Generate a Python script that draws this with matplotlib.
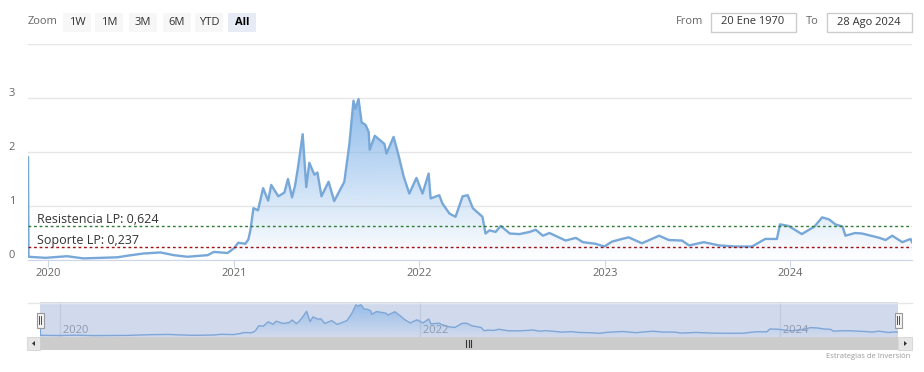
import matplotlib
matplotlib.use("Agg")
import matplotlib.pyplot as plt
import matplotlib.dates as mdates
from matplotlib.patches import Rectangle, Polygon
from matplotlib.transforms import offset_copy
import numpy as np
import pandas as pd

# values
dates = [
    "2019-11-22", "2019-11-23", "2019-12-26", "2020-02-07", "2020-03-10", "2020-04-13",
    "2020-05-16", "2020-06-05", "2020-07-06", "2020-08-09", "2020-09-04", "2020-10-01",
    "2020-11-10", "2020-11-22", "2020-12-19", "2021-01-01", "2021-01-09", "2021-01-23",
    "2021-01-29", "2021-02-02", "2021-02-08", "2021-02-17", "2021-02-27", "2021-03-09",
    "2021-03-15", "2021-03-29", "2021-04-10", "2021-04-17", "2021-04-25", "2021-05-01",
    "2021-05-07", "2021-05-16", "2021-05-23", "2021-05-29", "2021-06-08", "2021-06-14",
    "2021-06-22", "2021-07-06", "2021-07-17", "2021-08-06", "2021-08-16", "2021-08-24",
    "2021-08-28", "2021-09-03", "2021-09-09", "2021-09-17", "2021-09-23", "2021-09-25",
    "2021-10-05", "2021-10-24", "2021-10-28", "2021-11-11", "2021-11-21", "2021-12-01",
    "2021-12-12", "2021-12-26", "2022-01-07", "2022-01-19", "2022-01-23", "2022-02-09",
    "2022-02-15", "2022-03-01", "2022-03-13", "2022-03-27", "2022-04-06", "2022-04-16",
    "2022-05-05", "2022-05-11", "2022-05-19", "2022-05-31", "2022-06-10", "2022-06-28",
    "2022-07-17", "2022-08-06", "2022-08-18", "2022-09-01", "2022-09-14", "2022-10-16",
    "2022-11-05", "2022-11-19", "2022-12-14", "2022-12-31", "2023-01-15", "2023-02-04",
    "2023-02-17", "2023-03-15", "2023-04-18", "2023-05-07", "2023-06-02", "2023-06-16",
    "2023-07-15", "2023-08-14", "2023-09-15", "2023-10-18", "2023-11-13", "2023-12-06",
    "2023-12-12", "2023-12-29", "2024-01-24", "2024-02-18", "2024-03-04", "2024-03-18",
    "2024-03-30", "2024-04-13", "2024-04-19", "2024-05-08", "2024-05-22", "2024-06-25",
    "2024-07-07", "2024-07-20", "2024-08-09", "2024-08-25", "2024-08-28",
]
prices = [
    1.90, 0.06, 0.04, 0.07, 0.03, 0.04,
    0.05, 0.08, 0.12, 0.14, 0.09, 0.06,
    0.09, 0.15, 0.13, 0.22, 0.32, 0.30,
    0.38, 0.55, 0.96, 0.92, 1.33, 1.10,
    1.39, 1.18, 1.25, 1.50, 1.16, 1.38,
    1.73, 2.33, 1.35, 1.80, 1.58, 1.62,
    1.18, 1.45, 1.09, 1.45, 2.15, 2.95,
    2.80, 2.98, 2.55, 2.50, 2.37, 2.04,
    2.30, 2.15, 1.97, 2.28, 1.93, 1.54,
    1.23, 1.52, 1.23, 1.60, 1.14, 1.20,
    1.05, 0.86, 0.80, 1.18, 1.20, 0.96,
    0.80, 0.49, 0.55, 0.52, 0.63, 0.49,
    0.48, 0.52, 0.56, 0.45, 0.50, 0.36,
    0.41, 0.33, 0.30, 0.25, 0.34, 0.39,
    0.42, 0.31, 0.45, 0.37, 0.36, 0.27,
    0.33, 0.27, 0.25, 0.25, 0.39, 0.39,
    0.66, 0.63, 0.48, 0.62, 0.79, 0.75,
    0.66, 0.62, 0.45, 0.50, 0.49, 0.41,
    0.37, 0.45, 0.33, 0.39, 0.33,
]
resistance = 0.624
support = 0.237
res_label = "Resistencia LP: 0,624"
sup_label = "Soporte LP: 0,237"
y_ticks = [0, 1, 2, 3, 4]
main_years = [2020, 2021, 2022, 2023, 2024]
nav_years = [2020, 2022, 2024]
zoom_buttons = ["1W", "1M", "3M", "6M", "YTD", "All"]
from_date = "20 Ene 1970"
to_date = "28 Ago 2024"
credit = "Estrategias de Inversión"

plt.rcParams["font.family"] = ["Open Sans", "DejaVu Sans"]

W, H = 924, 372
LINE = "#78a8d8"
FILL_RGB = np.array([124, 176, 232]) / 255


def gradient_area(ax, x, y, top, alpha_top):
    # area under the line, filled with a vertical fade like the highcharts areaspline
    a = np.linspace(0, 1, 256) * alpha_top
    img = np.zeros((256, 1, 4))
    img[:, 0, :3] = FILL_RGB
    img[:, 0, 3] = a
    im = ax.imshow(img, extent=[x[0], x[-1], 0, top], origin="lower",
                   aspect="auto", zorder=1, interpolation="bilinear")
    verts = [(x[0], 0)] + list(zip(x, y)) + [(x[-1], 0)]
    patch = Polygon(verts, closed=True, facecolor="none", edgecolor="none")
    ax.add_patch(patch)
    im.set_clip_path(patch)


fig = plt.figure(figsize=(W / 100, H / 100), dpi=100)

# overlay in pixel coordinates for the toolbar, scrollbar and credit
ui = fig.add_axes([0, 0, 1, 1], zorder=0)
ui.set_xlim(0, W)
ui.set_ylim(H, 0)
ui.axis("off")

ui.text(28, 22, "Zoom", ha="left", va="center", fontsize=8, color="#666666")
btn_x = [63, 95, 129, 163, 195, 228]
for name, bx in zip(zoom_buttons, btn_x):
    sel = name == "All"
    ui.add_patch(Rectangle((bx, 13), 28, 19, facecolor="#e6ebf5" if sel else "#f7f7f7",
                           edgecolor="none"))
    ui.text(bx + 14, 22.5, name, ha="center", va="center", fontsize=8,
            color="#000000" if sel else "#333333", fontweight="bold" if sel else "normal")

ui.text(703, 22, "From", ha="right", va="center", fontsize=8, color="#666666")
ui.add_patch(Rectangle((710.5, 12.5), 85, 19, facecolor="white", edgecolor="#cccccc", lw=1))
ui.text(753, 22, from_date, ha="center", va="center", fontsize=8, color="#333333")
ui.text(806, 22, "To", ha="left", va="center", fontsize=8, color="#666666")
ui.add_patch(Rectangle((826.5, 12.5), 85, 19, facecolor="white", edgecolor="#cccccc", lw=1))
ui.text(869, 22, to_date, ha="center", va="center", fontsize=8, color="#333333")

# navigator frame + scrollbar
ui.plot([28, 912], [302.5, 302.5], color="#e6e6e6", lw=1)
ui.add_patch(Rectangle((40, 337), 858, 13, facecolor="#cccccc", edgecolor="none"))
ui.add_patch(Rectangle((27, 337), 13, 13, facecolor="#e6e6e6", edgecolor="#cccccc", lw=0.5))
ui.add_patch(Rectangle((898, 337), 14, 13, facecolor="#e6e6e6", edgecolor="#cccccc", lw=0.5))
ui.add_patch(Polygon([(35, 341), (35, 346), (32, 343.5)], closed=True, facecolor="#333333"))
ui.add_patch(Polygon([(904, 341), (904, 346), (907, 343.5)], closed=True, facecolor="#333333"))
for gx in [466, 468.5, 471]:
    ui.plot([gx, gx], [340, 347], color="#333333", lw=0.8)
ui.text(910, 357, credit, ha="right", va="center", fontsize=5.5, color="#999999")

x = mdates.date2num(pd.to_datetime(dates))

# main chart
ax = fig.add_axes([28 / W, 1 - 260 / H, 884 / W, 216 / H], zorder=2)
ax.patch.set_alpha(0)
gradient_area(ax, x, prices, 3.0, 0.85)
ax.plot(x, prices, color=LINE, lw=1.7, zorder=3, solid_joinstyle="round")
ax.axhline(resistance, color="#2e7d32", ls=(0, (2, 2)), lw=1, zorder=4)
ax.axhline(support, color="#a01010", ls=(0, (2, 2)), lw=1, zorder=4)
ax.annotate(res_label, xy=(0, resistance), xycoords=("axes fraction", "data"),
            xytext=(9, 3), textcoords="offset pixels", va="baseline", ha="left",
            fontsize=9, color="#333333", zorder=5)
ax.annotate(sup_label, xy=(0, support), xycoords=("axes fraction", "data"),
            xytext=(9, 3), textcoords="offset pixels", va="baseline", ha="left",
            fontsize=9, color="#333333", zorder=5)

ax.set_xlim(x[0], x[-1])
ax.set_ylim(0, 4)
ax.set_yticks(y_ticks)
ax.set_yticklabels([])
ax.tick_params(axis="y", length=0)
ax.grid(axis="y", color="#e6e6e6", lw=1)
ax.set_axisbelow(True)
trans = offset_copy(ax.get_yaxis_transform(), fig=fig, x=-13, y=2, units="dots")
for v in y_ticks[:-1]:
    ax.text(0, v, str(v), transform=trans, ha="right", va="baseline",
            fontsize=8, color="#666666")

ax.set_xticks(mdates.date2num(pd.to_datetime([f"{yr}-01-01" for yr in main_years])))
ax.set_xticklabels([str(yr) for yr in main_years])
ax.tick_params(axis="x", length=5, color="#ccd6eb", labelcolor="#666666",
               labelsize=8, pad=1)
for s in ["top", "left", "right"]:
    ax.spines[s].set_visible(False)
ax.spines["bottom"].set_color("#ccd6eb")

# navigator
nav = fig.add_axes([40 / W, 1 - 337 / H, 858 / W, 35 / H], zorder=1)
nav.set_facecolor("#d1daed")
for yr in nav_years:
    xv = mdates.date2num(pd.Timestamp(f"{yr}-01-01"))
    nav.axvline(xv, color="#c2cadd", lw=1, zorder=0.5)
    nav.text(xv, -0.05, f" {yr}", ha="left", va="bottom", fontsize=8, color="#8d98ad", zorder=5)
gradient_area(nav, x, prices, 3.0, 0.7)
nav.plot(x, prices, color="#7ea6d6", lw=1, zorder=3)
nav.set_xlim(x[0], x[-1])
nav.set_ylim(-0.1, 3.2)
nav.set_xticks([])
nav.set_yticks([])
for s in nav.spines.values():
    s.set_visible(False)

# navigator handles
for hx in [40, 898]:
    ui.add_patch(Rectangle((hx - 3.5, 312.5), 7, 15, facecolor="#f2f2f2",
                           edgecolor="#999999", lw=0.8, zorder=10))
    for lx in [hx - 1, hx + 1]:
        ui.plot([lx, lx], [316, 324], color="#333333", lw=0.6, zorder=11)
ui.set_zorder(3)
ui.patch.set_alpha(0)

fig.savefig("out.png", dpi=100, facecolor="white")
